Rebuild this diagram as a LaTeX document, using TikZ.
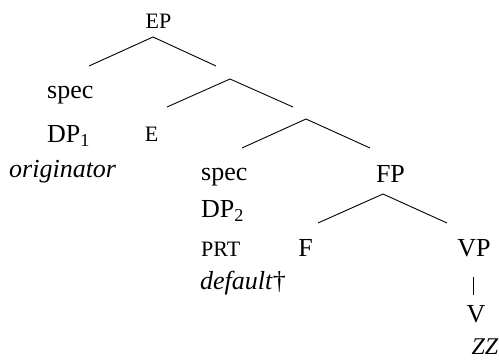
\documentclass[tikz,border=0pt]{standalone}
\usepackage{fontspec}
\setmainfont{Liberation Serif}
\begin{document}
\begin{tikzpicture}[x=1pt,y=-1pt,
  lab/.style={inner sep=0pt,anchor=base,font=\fontsize{26}{30}\selectfont},
  labw/.style={lab,anchor=base west},
  small/.style={font=\fontsize{22}{26}\selectfont},
  branch/.style={draw=black,line width=0.9pt}]
\useasboundingbox (0,0) rectangle (499,363);
% labels
\node[lab,small] (EP) at (158.5,29) {EP};
\node[labw] (spec1) at (47,99) {spec};
\node[labw] (DP1) at (47,143) {DP\textsubscript{1}};
\node[labw] (orig) at (9,178) {\textit{originator}};
\node[lab,small] (E) at (151.5,142) {E};
\node[labw] (spec2) at (201,181) {spec};
\node[labw] (DP2) at (201,218) {DP\textsubscript{2}};
\node[labw,small] (PRT) at (201,257) {PRT};
\node[labw] (dflt) at (200,290) {\textit{default}†};
\node[lab] (FP) at (390.5,183) {FP};
\node[lab] (F) at (305.5,257) {F};
\node[lab] (VP) at (474,257) {VP};
\node[lab] (V) at (476,323) {V};
\node[lab,font=\fontsize{24}{28}\selectfont\itshape] (ZZ) at (485,355) {ZZ};
% branch points
\coordinate (a1) at (153,37);  \coordinate (a1l) at (89,66);  \coordinate (a1r) at (216,66);
\coordinate (a2) at (230,79);  \coordinate (a2l) at (167,107); \coordinate (a2r) at (293,107);
\coordinate (a3) at (306,119); \coordinate (a3l) at (242,148); \coordinate (a3r) at (370,148);
\coordinate (a4) at (383,194); \coordinate (a4l) at (318,223); \coordinate (a4r) at (447,223);
\coordinate (vt) at (473.5,277); \coordinate (vb) at (473.5,295);
\draw[branch] (a1l) -- (a1) -- (a1r);
\draw[branch] (a2l) -- (a2) -- (a2r);
\draw[branch] (a3l) -- (a3) -- (a3r);
\draw[branch] (a4l) -- (a4) -- (a4r);
\draw[branch] (vt) -- (vb);
\end{tikzpicture}
\end{document}
